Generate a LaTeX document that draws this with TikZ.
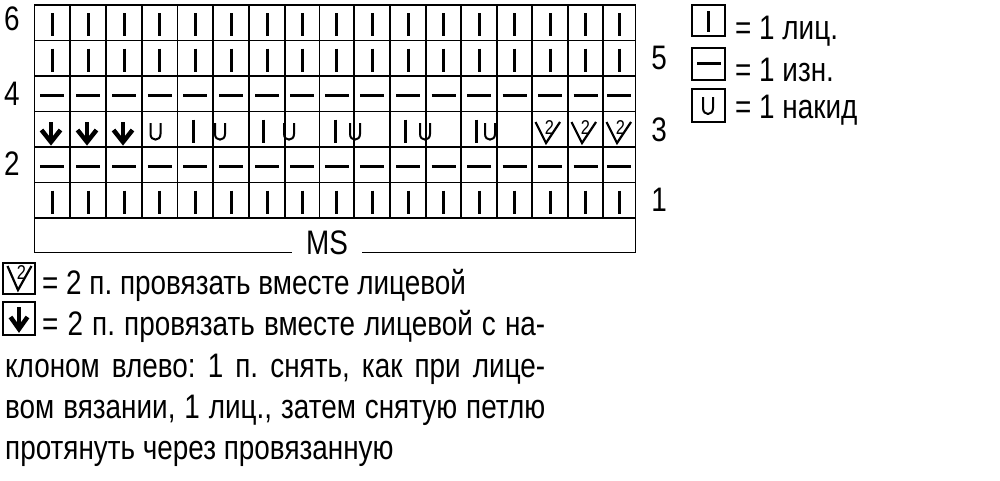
\documentclass[tikz,border=0pt]{standalone}
\usepackage{fontspec}
\setmainfont[FakeStretch=0.82]{Liberation Sans}
\begin{document}
\begin{tikzpicture}[x=1pt,y=-1pt,
  gridline/.style={line width=1.8pt, line cap=rect},
  knitbar/.style={line width=3pt},
  purlbar/.style={line width=3pt},
  yarnover/.style={line width=2pt},
  ktwo/.style={line width=2.2pt, line join=miter},
  arrshaft/.style={line width=4pt},
  arrhead/.style={line width=4.5pt, line join=miter},
  txt/.style={inner sep=0pt, anchor=base west, font=\fontsize{34}{40}\selectfont\frenchspacing},
  lbl/.style={inner sep=0pt, font=\fontsize{34}{40}\selectfont},
  twolbl/.style={inner sep=0pt, font=\fontsize{20}{20}\selectfont},
  iconbox/.style={line width=1.8pt}]
\useasboundingbox (0,0) rectangle (1000,480);
% grid
\foreach \y in {5,40.5,76,111.5,147,182.5,218}
  \draw[gridline] (34.5,\y) -- (635.5,\y);
\foreach \x in {70,106,142,177.5,213,249,285,319.5,354,390,426,461,497,532,568,603}
  \draw[gridline] (\x,5) -- (\x,218);
\draw[gridline] (291,252.5) -- (34.5,252.5) -- (34.5,5);
\draw[gridline] (635.5,5) -- (635.5,252.5) -- (363,252.5);
\node[lbl] (ms) at (327,243) {MS};
% knit rows 6,5,1
\foreach \t in {5,40.5,182.5}
  \foreach \c in {52.25,88,124,159.75,195.25,231,267,302.25,336.75,372,408,443.5,479,514.5,550,585.5,619.25}
    \draw[knitbar] (\c,\t+8) -- (\c,\t+31);
% purl rows 4,2
\foreach \m in {95.5,166.5}
  \foreach \c in {52.25,88,124,159.75,195.25,231,267,302.25,336.75,372,408,443.5,479,514.5,550,585.5,619.25}
    \draw[purlbar] (\c-12,\m) -- (\c+12,\m);
% row 3
\foreach \c in {51,87,123} {
  \draw[arrshaft] (\c,122) -- (\c,140);
  \draw[arrhead] (\c-9.5,130) -- (\c,142) -- (\c+9.5,130);
}
\foreach \c in {155.5,220,289,355,425,490}
  \draw[yarnover] (\c-5,123) -- (\c-5,134) .. controls (\c-5,141.5) and (\c+5,141.5) .. (\c+5,134) -- (\c+5,123);
\foreach \c in {193,263.5,335,405.5,476.5}
  \draw[knitbar] (\c,119.5) -- (\c,142.5);
\foreach \L/\n in {532/a,568/b,603/c} {
  \draw[ktwo] (\L+3.5,122) -- (\L+14,143) -- (\L+28,122);
  \node[twolbl] (two\n) at (\L+17.5,128) {2};
}
% row numbers
\node[lbl] (r6) at (12,19) {6};
\node[lbl] (r4) at (12,94) {4};
\node[lbl] (r2) at (12,164) {2};
\node[lbl] (r5) at (659,58) {5};
\node[lbl] (r3) at (659,130) {3};
\node[lbl] (r1) at (659,200) {1};
% legend top right
\draw[iconbox] (692,5) rectangle (725,36);
\draw[knitbar] (708.5,11) -- (708.5,32);
\node[txt] (lk) at (735,39) {= 1 лиц.};
\draw[iconbox] (692,48) rectangle (725,80);
\draw[purlbar] (697,63) -- (721,63);
\node[txt] (lp) at (735,81) {= 1 изн.};
\draw[iconbox] (692,89) rectangle (725,122);
\draw[yarnover] (703,97) -- (703,108) .. controls (703,116) and (713,116) .. (713,108) -- (713,97);
\node[txt] (ly) at (735,118) {= 1 накид};
% legend bottom left
\draw[iconbox] (3,263) rectangle (35,294);
\draw[ktwo] (7.5,266) -- (18,290) -- (31.5,266);
\node[twolbl] (twol) at (21.5,273) {2};
\node[txt] (t1) at (42,294) {= 2 п. провязать вместе лицевой};
\draw[iconbox] (3,302) rectangle (35,335);
\draw[arrshaft] (19,307) -- (19,326);
\draw[arrhead] (10.5,317) -- (19,329) -- (27.5,317);
\node[txt] (t2) at (42,335) {\makebox[503pt][s]{= 2 п. провязать вместе лицевой с на-}};
\node[txt] (t3) at (5,377) {\makebox[540pt][s]{клоном влево: 1 п. снять, как при лице-}};
\node[txt] (t4) at (5,418) {\makebox[540pt][s]{вом вязании, 1 лиц., затем снятую петлю}};
\node[txt] (t5) at (5,459) {протянуть через провязанную};
\end{tikzpicture}
\end{document}
